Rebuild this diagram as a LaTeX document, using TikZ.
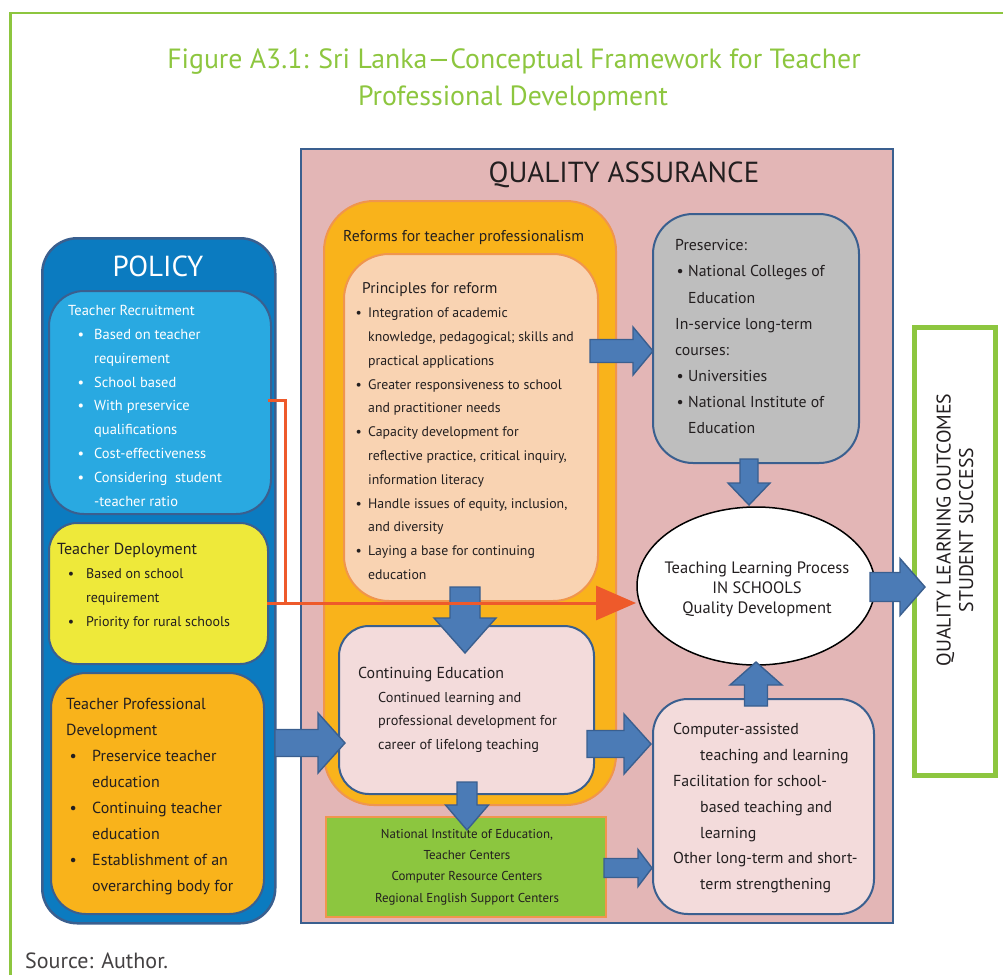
\documentclass[tikz,border=0pt]{standalone}
\usepackage{fontspec}
\setmainfont{PT Sans}
\usetikzlibrary{shapes.geometric,arrows.meta}
\definecolor{framegreen}{HTML}{8DC63F}
\definecolor{darktext}{HTML}{231F20}
\definecolor{navyline}{HTML}{3A5F8F}
\definecolor{policyblue}{HTML}{0B7BC0}
\definecolor{recruitblue}{HTML}{29A9E1}
\definecolor{deployyellow}{HTML}{EEE93A}
\definecolor{tpdorange}{HTML}{F9B31B}
\definecolor{qapink}{HTML}{E3B6B6}
\definecolor{reformline}{HTML}{F0954D}
\definecolor{peach}{HTML}{F9D3B2}
\definecolor{lightpink}{HTML}{F3DBDB}
\definecolor{greybox}{HTML}{BEBEBE}
\definecolor{greenbox}{HTML}{8CC63F}
\definecolor{arrowfill}{HTML}{4B7BB6}
\definecolor{redorange}{HTML}{EE5A2B}
\newcommand\mybul[2]{\hspace*{#1pt}\makebox[#2pt][l]{\textbullet}}
\newcommand\myind[1]{\hspace*{#1pt}}
\newcommand\blockarr[6]{%
  \begin{scope}[shift={(#1)},rotate=#2]
    \draw[barrow] (0,{-(#4)/2}) -- ({#3-#6},{-(#4)/2}) -- ({#3-#6},{-(#5)/2}) -- (#3,0)
      -- ({#3-#6},{(#5)/2}) -- ({#3-#6},{(#4)/2}) -- (0,{(#4)/2}) -- cycle;
  \end{scope}}
\tikzset{
  boxshape/.style={rectangle, inner sep=0pt, anchor=north west},
  txt/.style={inner sep=0pt, anchor=north west, align=left, text=darktext},
  barrow/.style={draw=navyline, fill=arrowfill, line width=1.4pt, line join=miter},
  oline/.style={draw=redorange, line width=3pt},
}
\begin{document}
\begin{tikzpicture}[x=1pt,y=-1pt]
\useasboundingbox (0,0) rectangle (1003,975);
% frame
\draw[framegreen, line width=2.6pt] (10.5,975) -- (10.5,12.8) -- (1003,12.8);
% title
\node[text=framegreen, font={\fontsize{27.8}{32}\selectfont}, inner sep=0pt] (t1) at (514,62) {Figure A3.1: Sri Lanka—Conceptual Framework for Teacher};
\node[text=framegreen, font={\fontsize{27.8}{32}\selectfont}, inner sep=0pt] (t2) at (513,98) {Professional Development};
\node[anchor=west, inner sep=0pt, text=darktext!85, font={\fontsize{22}{24}\selectfont}] (src) at (25,961) {Source: Author.};

% quality assurance
\node[boxshape, fill=qapink, draw=navyline, line width=2pt, minimum width=592pt, minimum height=774pt] (qa) at (300,148) {};
\node[inner sep=0pt, text=darktext, font={\fontsize{29}{32}\selectfont}] (qat) at (624,175) {QUALITY ASSURANCE};
\node[boxshape, fill=tpdorange, draw=reformline, line width=2pt, rounded corners=50pt, minimum width=292pt, minimum height=604pt] (ref) at (323,200) {};
\node[txt, font={\fontsize{15.7}{18}\selectfont}] (reft) at (343,230.5) {Reforms for teacher professionalism};
\node[boxshape, fill=peach, draw=reformline, line width=2pt, rounded corners=45pt, minimum width=254pt, minimum height=347pt] (pri) at (343,253) {};
\node[txt, font={\fontsize{13.8}{23.83}\selectfont}] (prit) at (355.5,282.5) {%
\myind{6.5}{\fontsize{15.5}{23.83}\selectfont Principles for reform}\\
\mybul{0}{12.5}Integration of academic\\
\myind{12.5}knowledge, pedagogical; skills and\\
\myind{12.5}practical applications\\
\mybul{0}{12.5}Greater responsiveness to school\\
\myind{12.5}and practitioner needs\\
\mybul{0}{12.5}Capacity development for\\
\myind{12.5}reflective practice, critical inquiry,\\
\myind{12.5}information literacy\\
\mybul{0}{12.5}Handle issues of equity, inclusion,\\
\myind{12.5}and diversity\\
\mybul{0}{12.5}Laying a base for continuing\\
\myind{12.5}education};

% policy
\node[boxshape, fill=policyblue, draw=navyline, line width=2.5pt, rounded corners=35pt, minimum width=233pt, minimum height=685pt] (pol) at (41,237) {};
\node[inner sep=0pt, text=white, font={\fontsize{29}{32}\selectfont}] (polt) at (158,266) {POLICY};
\node[boxshape, fill=recruitblue, draw=navyline, line width=2pt, rounded corners=35pt, minimum width=222pt, minimum height=223pt] (rec) at (48,290) {};
\node[txt, text=white, font={\fontsize{14.5}{23.8}\selectfont}] (rect) at (68,305.3) {%
Teacher Recruitment\\
\mybul{9.5}{16.5}Based on teacher\\
\myind{26}requirement\\
\mybul{9.5}{16.5}School based\\
\mybul{9.5}{16.5}With preservice\\
\myind{26}qualifications\\
\mybul{9.5}{16.5}Cost-effectiveness\\
\mybul{9.5}{16.5}Considering\ \ student\\
\myind{26}-teacher ratio};
\node[boxshape, fill=deployyellow, draw=navyline, line width=2pt, rounded corners=28pt, minimum width=219pt, minimum height=141pt] (dep) at (48,522) {};
\node[txt, font={\fontsize{14}{24}\selectfont}] (dept) at (57,542.5) {%
{\fontsize{16}{24}\selectfont Teacher Deployment}\\
\mybul{10.7}{18.3}Based on school\\
\myind{29}requirement\\
\mybul{10.7}{18.3}Priority for rural schools};
\node[boxshape, fill=tpdorange, draw=navyline, line width=2pt, rounded corners=35pt, minimum width=213pt, minimum height=241pt] (tpd) at (50,672) {};
\node[txt, font={\fontsize{16}{26}\selectfont}] (tpdt) at (66,697.8) {%
Teacher Professional\\
Development\\
\mybul{3.5}{22.5}Preservice teacher\\
\myind{26}education\\
\mybul{3.5}{22.5}Continuing teacher\\
\myind{26}education\\
\mybul{3.5}{22.5}Establishment of an\\
\myind{26}overarching body for};

% preservice
\node[boxshape, fill=greybox, draw=navyline, line width=2pt, rounded corners=40pt, minimum width=206pt, minimum height=249pt] (pre) at (652,213) {};
\node[txt, font={\fontsize{15.8}{26.1}\selectfont}] (pret) at (675,239.5) {%
Preservice:\\
\mybul{1.5}{11.5}National Colleges of\\
\myind{13}Education\\
In-service long-term\\
courses:\\
\mybul{1.5}{11.5}Universities\\
\mybul{1.5}{11.5}National Institute of\\
\myind{13}Education};

% continuing education
\node[boxshape, fill=lightpink, draw=navyline, line width=2pt, rounded corners=30pt, minimum width=255pt, minimum height=168pt] (ce) at (338,625) {};
\node[txt, font={\fontsize{15.9}{18}\selectfont}] (cet) at (358,666.5) {Continuing Education};
\node[txt, font={\fontsize{14.3}{23.5}\selectfont}] (ceb) at (378,692) {%
Continued learning and\\
professional development for\\
career of lifelong teaching};

% green centers box
\node[boxshape, fill=greenbox, draw=reformline, line width=2pt, minimum width=280pt, minimum height=100pt] (gc) at (325,816) {};
\node[txt, anchor=north, align=center, font={\fontsize{12.9}{21.3}\selectfont}] (gct) at (467,829) {%
National Institute of Education,\\
Teacher Centers\\
Computer Resource Centers\\
Regional English Support Centers};

% computer-assisted box
\node[boxshape, fill=lightpink, draw=navyline, line width=2pt, rounded corners=35pt, minimum width=221pt, minimum height=215pt] (cab) at (652,698) {};
\node[txt, font={\fontsize{15.9}{25.8}\selectfont}] (cabt) at (673,723.3) {%
Computer-assisted\\
\myind{27}teaching and learning\\
Facilitation for school-\\
\myind{27}based teaching and\\
\myind{27}learning\\
Other long-term and short-\\
\myind{27}term strengthening};

% ellipse
\node[ellipse, draw=black, line width=1.5pt, fill=white, minimum width=238pt, minimum height=158pt, inner sep=0pt] (tlp) at (756,586) {};
\node[inner sep=0pt, align=center, text=darktext, font={\fontsize{16.5}{20}\selectfont}] (tlpt) at (757,589) {Teaching Learning Process\\IN SCHOOLS\\Quality Development};

% outcomes
\node[rectangle, draw=framegreen, line width=5pt, fill=white, minimum width=81pt, minimum height=448pt, inner sep=0pt] (out) at (954.5,551) {};
\node[rotate=90, inner sep=0pt, align=center, text=darktext, font={\fontsize{19.8}{22.5}\selectfont}] (outt) at (955,530) {QUALITY LEARNING OUTCOMES\\STUDENT SUCCESS};

% block arrows
\coordinate (a1) at (590,351);
\coordinate (a2) at (749,459);
\coordinate (a3) at (465,587);
\coordinate (a4) at (275,743);
\coordinate (a5) at (587,744);
\coordinate (a6) at (467,782);
\coordinate (a7) at (604,868);
\coordinate (a8) at (756,706);
\coordinate (a9) at (870,587);
\blockarr{a1}{0}{63}{23}{48}{20}
\blockarr{a2}{-90}{46}{18}{42}{22}
\blockarr{a3}{-90}{66}{30}{62}{35}
\blockarr{a4}{0}{70}{27}{60}{27}
\blockarr{a5}{0}{64}{27}{60}{27}
\blockarr{a6}{-90}{48}{20}{43}{25}
\blockarr{a7}{0}{48}{19}{37}{14}
\blockarr{a8}{90}{44}{23}{52}{23}
\blockarr{a9}{0}{55}{29}{57}{25}

% orange connector
\coordinate (o1) at (268,400);
\coordinate (oc) at (285,400);
\coordinate (od) at (285,603);
\coordinate (o2) at (267,603);
\coordinate (otip) at (636,603);
\draw[oline] (o1) -- (oc) -- (od);
\draw[oline, -{Triangle[length=40pt,width=34pt]}] (o2) -- (otip);
\end{tikzpicture}
\end{document}
